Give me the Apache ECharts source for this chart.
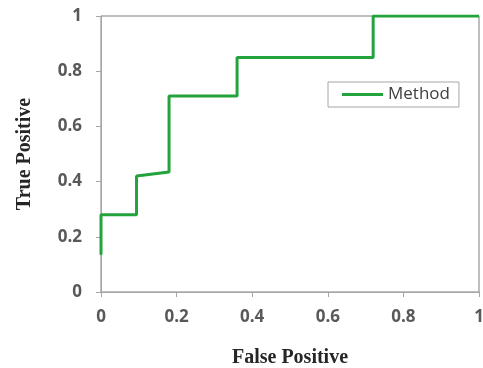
<!DOCTYPE html>
<html>
<head>
<meta charset="utf-8">
<script src="https://cdn.jsdelivr.net/npm/echarts@6/dist/echarts.min.js"></script>
<style>
  html, body { margin: 0; padding: 0; background: #fff; }
  #chart { width: 483px; height: 368px; }
</style>
</head>
<body>
<div id="chart"></div>
<script>
// ROC curve points
var falsePos = [0, 0, 0.094, 0.094, 0.18, 0.18, 0.36, 0.36, 0.72, 0.72, 1];
var truePos  = [0.135, 0.28, 0.28, 0.42, 0.435, 0.71, 0.71, 0.85, 0.85, 1, 1];
var seriesName = 'Method';

var points = falsePos.map(function (x, i) { return [x, truePos[i]]; });

var labelStyle = {
  color: '#595959',
  fontFamily: 'Open Sans',
  fontWeight: 'bold',
  fontSize: 17
};
var titleStyle = {
  color: '#262626',
  fontFamily: 'Liberation Serif',
  fontWeight: 'bold',
  fontSize: 20
};

var option = {
  animation: false,
  grid: {
    left: 101, right: 4, top: 16, bottom: 76,
    outerBoundsMode: 'none',
    containLabel: false,
    show: true,
    borderColor: '#7f7f7f',
    borderWidth: 1
  },
  legend: {
    data: [{ name: seriesName, icon: 'rect' }],
    left: 328,
    top: 82,
    itemWidth: 41,
    itemHeight: 3,
    itemGap: 4,
    padding: [4, 9, 4, 14],
    borderColor: '#a6a6a6',
    borderWidth: 1,
    textStyle: {
      color: '#404040',
      fontFamily: 'Open Sans',
      fontSize: 17,
      padding: [0, 0, 0, 0]
    }
  },
  xAxis: {
    type: 'value',
    min: 0, max: 1, interval: 0.2,
    name: 'False Positive',
    nameLocation: 'middle',
    nameGap: 56,
    nameTextStyle: titleStyle,
    axisLine: { lineStyle: { color: '#a6a6a6', width: 1 } },
    axisTick: { show: true, length: 5, lineStyle: { color: '#a6a6a6' } },
    axisLabel: Object.assign({ margin: 17 }, labelStyle),
    splitLine: { show: false }
  },
  yAxis: {
    type: 'value',
    min: 0, max: 1, interval: 0.2,
    name: 'True Positive',
    nameLocation: 'middle',
    nameGap: 66,
    nameTextStyle: titleStyle,
    axisLine: { show: true, lineStyle: { color: '#a6a6a6', width: 1 } },
    axisTick: { show: true, length: 5, lineStyle: { color: '#a6a6a6' } },
    axisLabel: Object.assign({ margin: 19 }, labelStyle),
    splitLine: { show: false }
  },
  series: [
    {
      name: seriesName,
      type: 'line',
      data: points,
      symbol: 'none',
      lineStyle: { color: '#22a33c', width: 3 },
      itemStyle: { color: '#22a33c' }
    }
  ]
};

var myChart = echarts.init(document.getElementById('chart'));
myChart.setOption(option, true);
</script>
</body>
</html>
